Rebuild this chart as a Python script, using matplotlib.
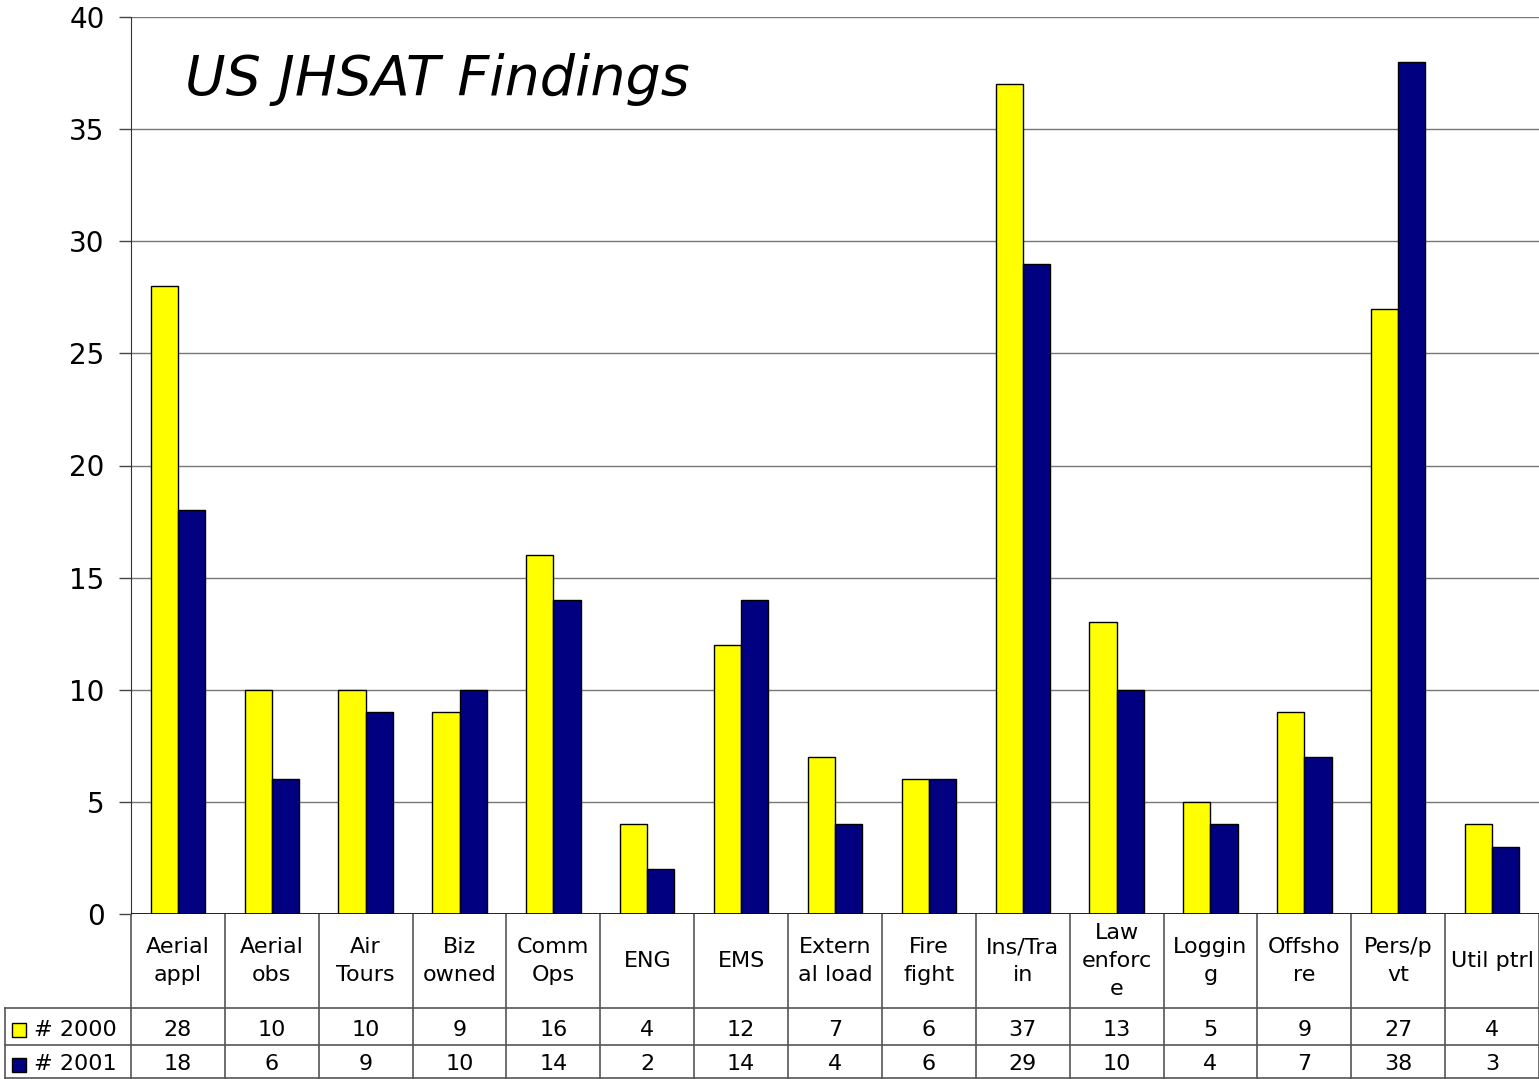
import numpy as np
import matplotlib.pyplot as plt
from matplotlib.patches import Rectangle

# data
categories = ["Aerial\nappl", "Aerial\nobs", "Air\nTours", "Biz\nowned", "Comm\nOps", "ENG", "EMS",
              "Extern\nal load", "Fire\nfight", "Ins/Tra\nin", "Law\nenforc\ne", "Loggin\ng",
              "Offsho\nre", "Pers/p\nvt", "Util ptrl"]
y2000 = [28, 10, 10, 9, 16, 4, 12, 7, 6, 37, 13, 5, 9, 27, 4]
y2001 = [18, 6, 9, 10, 14, 2, 14, 4, 6, 29, 10, 4, 7, 38, 3]
series = ["# 2000", "# 2001"]
colors = ["#FFFF00", "#000080"]

W, H = 1539, 1079
fig = plt.figure(figsize=(W / 100, H / 100), dpi=100)
plt.rcParams['font.family'] = 'DejaVu Sans'

# main axes (pixel layout)
left, top, bottom = 131, 17, 914
ax = fig.add_axes([left / W, 1 - bottom / H, 1 - left / W, (bottom - top) / H])
n = len(categories)
x = np.arange(n)
bw = 0.29
ax.bar(x - bw / 2, y2000, bw, color=colors[0], edgecolor='black', linewidth=1, zorder=3)
ax.bar(x + bw / 2, y2001, bw, color=colors[1], edgecolor='black', linewidth=1, zorder=3)
ax.set_xlim(-0.5, n - 0.5)
ax.set_ylim(0, 40)
ax.set_yticks(range(0, 41, 5))
ax.tick_params(axis='y', labelsize=20, length=9, width=1, color='#444444', pad=10)
ax.set_xticks([])
ax.grid(axis='y', color='#777777', linewidth=1, zorder=0)
for s in ['top', 'right', 'bottom']:
    ax.spines[s].set_visible(False)
ax.spines['left'].set_color('#333333')
ax.axhline(0, color='black', linewidth=1.2, zorder=4)
ax.text(0.038, 0.93, "US JHSAT Findings", transform=ax.transAxes, fontsize=40,
        style='italic', va='center', ha='left')

# data table below, in pixel coordinates
tab = fig.add_axes([0, 0, 1, 1 - bottom / H])
tab.set_xlim(0, W)
tab.set_ylim(H, bottom)
tab.axis('off')
cw = (W - left) / n
rows = [bottom, 1008, 1045, H - 1]
lc = '#555555'
for i in range(n + 1):
    xb = left + i * cw
    tab.plot([xb, xb], [bottom, H], color=lc, lw=1.2)
for r in rows[1:]:
    tab.plot([5, W], [r, r], color=lc, lw=1.2)
tab.plot([5, 5], [rows[1], H], color=lc, lw=1.2)
for i, c in enumerate(categories):
    xc = left + (i + 0.5) * cw
    tab.text(xc, (rows[0] + rows[1]) / 2, c, ha='center', va='center', fontsize=16,
             linespacing=1.5)
    tab.text(xc, (rows[1] + rows[2]) / 2 + 3, str(y2000[i]), ha='center', va='center', fontsize=16)
    tab.text(xc, (rows[2] + rows[3]) / 2 + 3, str(y2001[i]), ha='center', va='center', fontsize=16)
for j, (name, col) in enumerate(zip(series, colors)):
    yc = (rows[1 + j] + rows[2 + j]) / 2 + 3
    tab.add_patch(Rectangle((12, yc - 7), 14, 14, facecolor=col, edgecolor='black', lw=1))
    tab.text(34, yc, name, ha='left', va='center', fontsize=16)

fig.savefig("out.png", dpi=100)
